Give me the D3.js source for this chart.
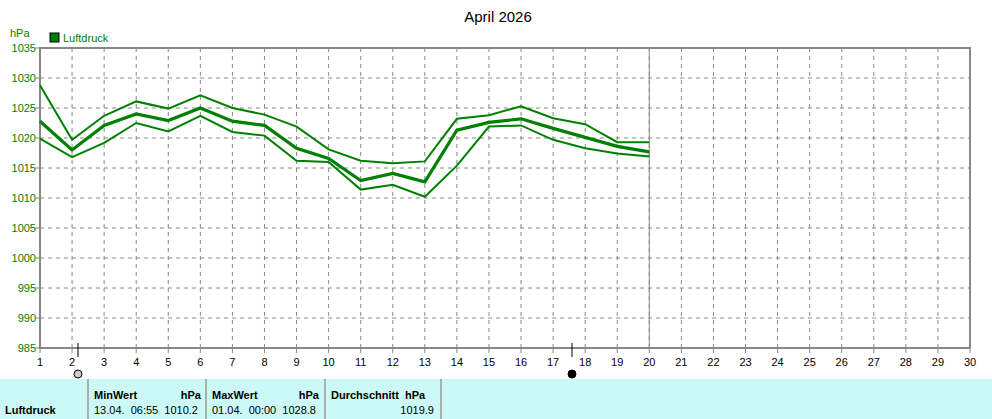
<!DOCTYPE html><html><head><meta charset="utf-8">
<script src="https://cdn.jsdelivr.net/npm/d3@7/dist/d3.min.js"></script>
<style>body{margin:0;background:#fff}svg{display:block;font-family:"Liberation Sans",Arial,sans-serif}text{white-space:pre}</style></head><body>
<svg id="c" width="992" height="419"></svg>
<script>
const days=d3.range(1,21);
const maxV=[1028.8,1019.7,1023.7,1026.1,1024.9,1027.1,1025.0,1023.9,1021.9,1018.1,1016.2,1015.8,1016.1,1023.2,1023.8,1025.3,1023.3,1022.3,1019.3,1019.3];
const meanV=[1022.8,1018.0,1022.1,1024.0,1022.9,1025.0,1022.8,1022.1,1018.3,1016.6,1012.9,1014.1,1012.7,1021.3,1022.6,1023.2,1021.6,1020.1,1018.6,1017.7];
const minV=[1019.9,1016.8,1019.2,1022.5,1021.1,1023.7,1021.0,1020.4,1016.2,1016.0,1011.4,1012.2,1010.2,1015.4,1021.9,1022.1,1019.7,1018.3,1017.4,1016.9];
const yTicks=d3.range(985,1036,5);
const xTicks=d3.range(1,31);
const svg=d3.select("#c");
const x=d3.scaleLinear().domain([1,30]).range([40,970]);
const y=d3.scaleLinear().domain([985,1035]).range([348,48]);
const G="#008000";
svg.append("text").attr("x",498).attr("y",22).attr("text-anchor","middle").attr("font-size",15).text("April 2026");
svg.append("text").attr("x",10).attr("y",37).attr("fill",G).attr("font-size",11).text("hPa");
svg.append("rect").attr("x",50).attr("y",33).attr("width",9).attr("height",9).attr("fill",G).attr("stroke","#000");
svg.append("text").attr("x",63).attr("y",42).attr("fill",G).attr("font-size",11).text("Luftdruck");
xTicks.slice(1,-1).forEach(d=>svg.append("line").attr("x1",x(d)).attr("x2",x(d)).attr("y1",48).attr("y2",348).attr("stroke","#888").attr("stroke-dasharray","4,4"));
yTicks.slice(1,-1).forEach(d=>svg.append("line").attr("x1",40).attr("x2",970).attr("y1",y(d)).attr("y2",y(d)).attr("stroke","#888").attr("stroke-dasharray","4,4"));
svg.append("rect").attr("x",40).attr("y",48).attr("width",930).attr("height",300).attr("fill","none").attr("stroke","#888").attr("stroke-width",2);
svg.append("line").attr("x1",x(20)).attr("x2",x(20)).attr("y1",48).attr("y2",348).attr("stroke","#888");
yTicks.forEach(d=>{svg.append("text").attr("x",36).attr("y",y(d)+4).attr("text-anchor","end").attr("fill",G).attr("font-size",11).text(d);
 svg.append("line").attr("x1",35).attr("x2",40).attr("y1",y(d)).attr("y2",y(d)).attr("stroke","#888");});
xTicks.forEach(d=>{svg.append("text").attr("x",x(d)).attr("y",366).attr("text-anchor","middle").attr("font-size",11).text(d);
 svg.append("line").attr("x1",x(d)).attr("x2",x(d)).attr("y1",348).attr("y2",353).attr("stroke","#888");});
[[78,false],[572,true]].forEach(([px,f])=>{svg.append("line").attr("x1",px).attr("x2",px).attr("y1",343).attr("y2",357).attr("stroke","#000");
 svg.append("circle").attr("cx",px).attr("cy",374).attr("r",4).attr("fill",f?"#000":"#ccc").attr("stroke","#000");});
const line=d3.line().x((d,i)=>x(days[i])).y(d=>y(d));
[[maxV,2],[minV,2],[meanV,3.2]].forEach(([s,w])=>svg.append("path").attr("d",line(s)).attr("fill","none").attr("stroke",G).attr("stroke-width",w));
svg.append("rect").attr("x",0).attr("y",379).attr("width",992).attr("height",40).attr("fill","#ccf8f6");
[88,206,325,441].forEach(px=>svg.append("line").attr("x1",px).attr("x2",px).attr("y1",379).attr("y2",419).attr("stroke","#999").attr("stroke-width",1.5));
const t=(tx,ty,s,b,a)=>svg.append("text").attr("x",tx).attr("y",ty).attr("font-size",11).attr("font-weight",b?"bold":"normal").attr("text-anchor",a||"start").text(s);
t(5,414,"Luftdruck",1);
t(94,399,"MinWert",1);t(201,399,"hPa",1,"end");t(94,414,"13.04.  06:55  1010.2");
t(212,399,"MaxWert",1);t(319,399,"hPa",1,"end");t(212,414,"01.04.  00:00  1028.8");
t(331,399,"Durchschnitt  hPa",1);t(434,414,"1019.9",0,"end");
</script></body></html>
